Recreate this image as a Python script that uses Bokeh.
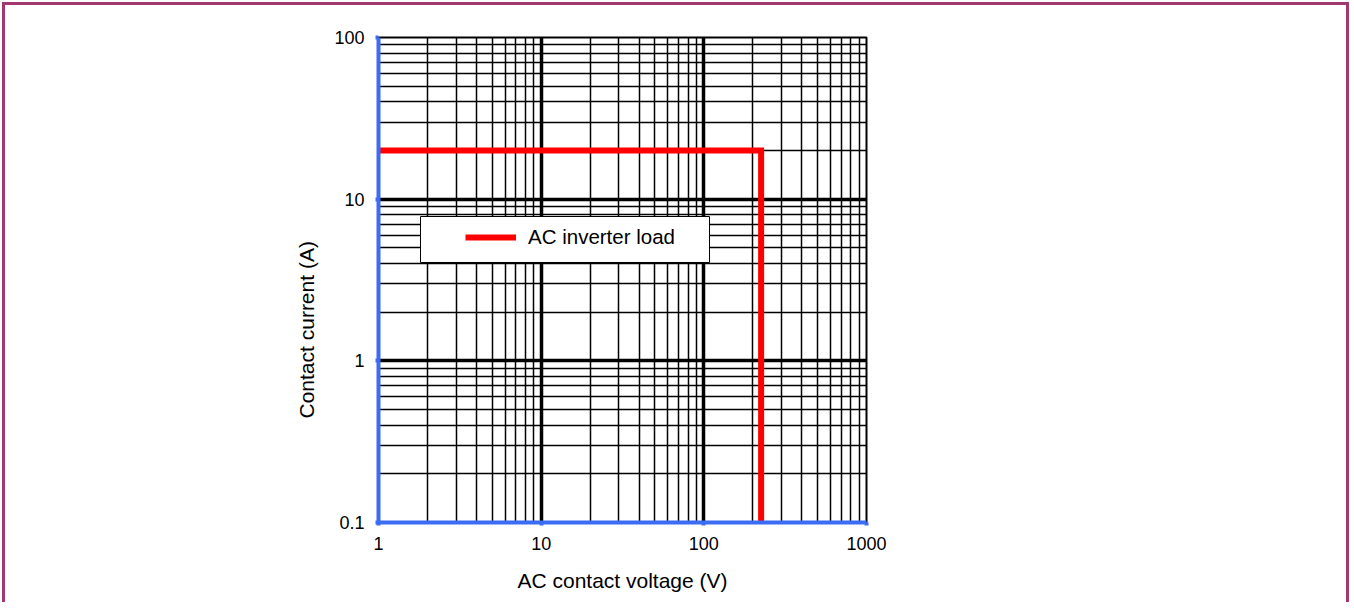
from bokeh.plotting import figure
from bokeh.models import (Range1d, FixedTicker, CustomJSTickFormatter, Legend,
                          LegendItem, BoxAnnotation, Title)
from bokeh.embed import file_html
from bokeh.resources import INLINE

# ---- data ----
voltage = [1, 225, 225]          # V
current = [20, 20, 0.1]          # A
series_label = "AC inverter load"

x_major_ticks = [1, 10, 100, 1000]
x_minor_ticks = [m * d for d in (1, 10, 100) for m in range(2, 10)]
y_major_ticks = [0.1, 1, 10, 100]
y_minor_ticks = [round(m * d, 3) for d in (0.1, 1, 10) for m in range(2, 10)]

x_title = "AC contact voltage (V)"
y_title = "Contact current (A)"

BLUE = "#3b6cf4"
RED = "#ff0000"
FRAME = "#a3386e"

W = 1347
p = figure(width=W, height=600, x_axis_type="log", y_axis_type="log",
           x_range=Range1d(1, 1000), y_range=Range1d(0.1, 100),
           output_backend="svg", toolbar_location=None,
           min_border_left=373, min_border_right=W - 861,
           min_border_top=32, min_border_bottom=83)
p.styles = {"border-left": f"3px solid {FRAME}", "border-top": f"3px solid {FRAME}",
            "border-right": f"3px solid {FRAME}", "margin": "2px 0 0 2px"}

p.outline_line_color = "black"
p.outline_line_width = 2

fmt = CustomJSTickFormatter(code="return tick.toString()")
p.xaxis.ticker = FixedTicker(ticks=x_major_ticks, minor_ticks=x_minor_ticks)
p.yaxis.ticker = FixedTicker(ticks=y_major_ticks, minor_ticks=y_minor_ticks)
for ax in (p.xaxis, p.yaxis):
    ax.formatter = fmt
    ax.axis_line_color = BLUE
    ax.axis_line_width = 4
    ax.major_tick_line_color = BLUE
    ax.major_tick_line_width = 4
    ax.major_tick_out = 3
    ax.major_tick_in = 0
    ax.minor_tick_line_color = None
    ax.major_label_text_font = "Liberation Sans"
    ax.major_label_text_font_size = "18px"
    ax.major_label_text_color = "black"
    ax.major_label_standoff = 10

p.xaxis.axis_label = x_title
p.xaxis.axis_label_text_font = "Liberation Sans"
p.xaxis.axis_label_text_font_size = "21px"
p.xaxis.axis_label_text_font_style = "normal"
p.xaxis.axis_label_text_color = "black"
p.xaxis.axis_label_standoff = 16

for g in (p.xgrid, p.ygrid):
    g.grid_line_color = "black"
    g.grid_line_width = 3.5
    g.minor_grid_line_color = "black"
    g.minor_grid_line_width = 1.5

r = p.line(voltage, current, line_color=RED, line_width=6, line_join="miter")

box = BoxAnnotation(left=42, right=331, bottom=260, top=306,
                    left_units="screen", right_units="screen",
                    bottom_units="screen", top_units="screen",
                    fill_color="white", fill_alpha=1,
                    line_color="black", line_width=1, line_alpha=1)
p.add_layout(box)

legend = Legend(items=[LegendItem(label=series_label, renderers=[r])],
                location=(87, 273), padding=0, margin=0,
                border_line_alpha=0, background_fill_alpha=0,
                glyph_width=51, glyph_height=20, label_height=20,
                label_standoff=12, label_text_font="Liberation Sans",
                label_text_font_size="20.5px", label_text_color="black")
p.add_layout(legend)

ytitle = Title(text=y_title, align="left", offset=104, standoff=27,
               text_font="Liberation Sans", text_font_size="21px",
               text_font_style="normal", text_color="black")
p.add_layout(ytitle, "left")

open("out.html", "w").write(file_html(p, INLINE))
